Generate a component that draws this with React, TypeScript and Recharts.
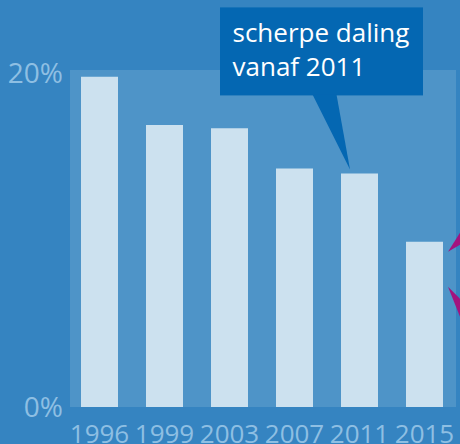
import { BarChart, Bar, XAxis, YAxis, ReferenceDot } from "recharts";

const years = ["1996", "1999", "2003", "2007", "2011", "2015"];
const shares = [19.8, 16.9, 16.7, 14.3, 14.0, 9.9];
const yTicks = [0, 20];
const calloutLines = ["scherpe daling", "vanaf 2011"];

const data = years.map((year, i) => ({ year, share: shares[i] }));

const BG = "#3584c1";
const PLOT_BG = "#4e94c8";
const BAR = "#cce1ef";
const LABEL = "#8ebfe3";
const CALLOUT = "#0467b2";
const MAGENTA = "#a3137f";
const FONT = "'Open Sans', sans-serif";

// speech bubble, tip anchored on top of the 2011 bar
const Callout = ({ cx, cy }: { cx?: number; cy?: number }) => {
  if (cx == null || cy == null) return null;
  const tipX = cx - 9.5;
  const tipY = cy - 4;
  return (
    <g>
      <rect x={cx - 139.5} y={cy - 166} width={203} height={88} fill={CALLOUT} />
      <polygon
        points={`${cx - 47},${cy - 79} ${cx - 23},${cy - 79} ${tipX},${tipY}`}
        fill={CALLOUT}
      />
      {calloutLines.map((line, i) => (
        <text
          key={line}
          x={cx - 127}
          y={cy - 131 + i * 34}
          fill="#fff"
          fontSize={26}
          fontFamily={FONT}
        >
          {line}
        </text>
      ))}
    </g>
  );
};

// cut-off arrow heads of the neighbouring panel, next to the 2015 bar
const Arrows = ({ cx, cy }: { cx?: number; cy?: number }) => {
  if (cx == null || cy == null) return null;
  const x = cx + 23.5;
  return (
    <g fill={MAGENTA}>
      <polygon points={`${x},${cy + 10} ${x + 12},${cy - 9} ${x + 12},${cy + 3}`} />
      <polygon points={`${x},${cy + 45} ${x + 12},${cy + 57} ${x + 12},${cy + 75}`} />
    </g>
  );
};

export default function App() {
  return (
    <div style={{ position: "relative", width: 460, height: 444, background: BG, overflow: "hidden" }}>
      <style>{"body{margin:0}"}</style>
      <div
        style={{ position: "absolute", left: 70, top: 70, width: 386, height: 337, background: PLOT_BG }}
      />
      <div style={{ position: "absolute", left: 0, top: 0 }}>
        <BarChart
          width={460}
          height={444}
          data={data}
          margin={{ top: 73.3, right: 3, bottom: 0, left: 0 }}
          barCategoryGap={0}
        >
          <XAxis
            dataKey="year"
            axisLine={false}
            tickLine={false}
            tickSize={0}
            tickMargin={18}
            height={37}
            interval={0}
            tick={{ fill: LABEL, fontSize: 26, fontFamily: FONT }}
          />
          <YAxis
            type="number"
            domain={[0, 20]}
            ticks={yTicks}
            tickFormatter={(v: number) => `${v}%`}
            axisLine={false}
            tickLine={false}
            tickSize={0}
            tickMargin={4}
            width={67}
            tick={{ fill: LABEL, fontSize: 28, fontFamily: FONT }}
          />
          <Bar dataKey="share" fill={BAR} barSize={37} isAnimationActive={false} />
          <ReferenceDot
            x="2011"
            y={shares[4]}
            ifOverflow="visible"
            shape={(p: any) => <Callout cx={p.cx} cy={p.cy} />}
          />
          <ReferenceDot
            x="2015"
            y={shares[5]}
            ifOverflow="visible"
            shape={(p: any) => <Arrows cx={p.cx} cy={p.cy} />}
          />
        </BarChart>
      </div>
    </div>
  );
}
